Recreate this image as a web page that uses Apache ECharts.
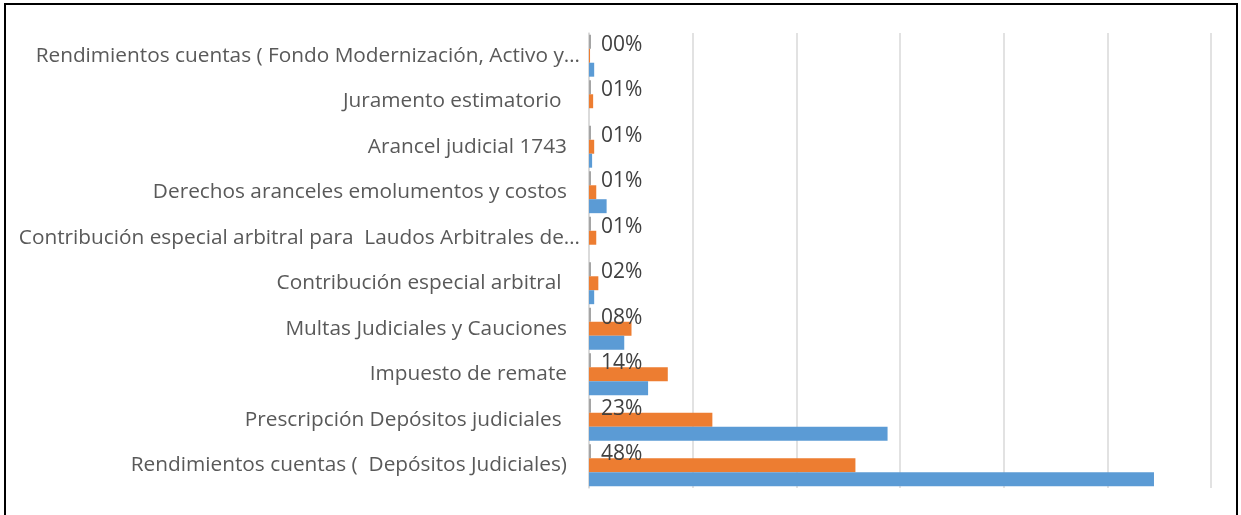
<!DOCTYPE html>
<html>
<head>
<meta charset="utf-8">
<script src="https://cdn.jsdelivr.net/npm/echarts@6/dist/echarts.min.js"></script>
<style>
  html, body { margin: 0; padding: 0; background: #fff; }
  #chart { width: 1241px; height: 515px; }
</style>
</head>
<body>
<div id="chart"></div>
<script>
// categorias (de abajo hacia arriba, como en el original)
var categorias = [
  'Rendimientos cuentas (  Depósitos Judiciales)',
  'Prescripción Depósitos judiciales ',
  'Impuesto de remate',
  'Multas Judiciales y Cauciones',
  'Contribución especial arbitral ',
  'Contribución especial arbitral para  Laudos Arbitrales de…',
  'Derechos aranceles emolumentos y costos',
  'Arancel judicial 1743',
  'Juramento estimatorio ',
  'Rendimientos cuentas ( Fondo Modernización, Activo y…'
];

// serie azul
var serieAzul = [5.45, 2.88, 0.57, 0.34, 0.05, 0, 0.17, 0.03, 0, 0.05];
// serie naranja
var serieNaranja = [2.57, 1.19, 0.76, 0.41, 0.09, 0.07, 0.07, 0.05, 0.04, 0.01];
// participacion (%)
var participacion = [0.48, 0.23, 0.14, 0.08, 0.02, 0.01, 0.01, 0.01, 0.01, 0.00];

var textoFuente = '"Open Sans", "Noto Sans", sans-serif';

var myChart = echarts.init(document.getElementById('chart'));

option = {
  animation: false,
  backgroundColor: '#ffffff',
  textStyle: { fontFamily: textoFuente },
  graphic: [{
    type: 'rect',
    shape: { x: 5, y: 4, width: 1232, height: 540 },
    style: { fill: 'none', stroke: '#000000', lineWidth: 2 },
    silent: true
  }],
  grid: { left: 589, right: 30, top: 33, bottom: 27 },
  xAxis: [{
    type: 'value',
    min: 0,
    max: 6,
    interval: 1,
    axisLabel: { show: false },
    axisLine: { show: false },
    axisTick: { show: false },
    splitLine: { show: true, lineStyle: { color: '#d9d9d9', width: 1.5 } }
  }, {
    type: 'value',
    min: 0,
    max: 600,
    show: false
  }],
  yAxis: {
    type: 'category',
    data: categorias,
    axisTick: { show: false },
    axisLine: { show: true, lineStyle: { color: '#d9d9d9', width: 1.5 } },
    axisLabel: {
      color: '#595959',
      fontSize: 20.8,
      margin: 9,
      fontFamily: textoFuente,
      // las etiquetas cortadas con "…" llegan mas cerca del eje
      formatter: function (v) {
        return v.slice(-1) === '…' ? '{c|' + v + '}' : '{n|' + v + '}';
      },
      rich: {
        c: { color: '#595959', fontSize: 20.8, fontFamily: textoFuente },
        n: { color: '#595959', fontSize: 20.8, fontFamily: textoFuente, padding: [0, 13, 0, 0] }
      }
    }
  },
  series: [
    // en ECharts la primera serie queda arriba dentro de cada categoria
    {
      name: 'participacion',
      type: 'bar',
      xAxisIndex: 1,
      data: participacion,
      barCategoryGap: '8%',
      barGap: '0%',
      barMinHeight: 2,
      itemStyle: { color: '#a5a5a5' },
      label: {
        show: true,
        position: 'right',
        distance: 10,
        offset: [0, 3],
        color: '#404040',
        fontSize: 21,
        fontFamily: textoFuente,
        formatter: function (p) {
          var n = Math.round(p.value * 100);
          return (n < 10 ? '0' : '') + n + '%';
        }
      }
    },
    {
      name: 'naranja',
      type: 'bar',
      data: serieNaranja,
      barCategoryGap: '8%',
      barGap: '0%',
      itemStyle: { color: '#ed7d31' }
    },
    {
      name: 'azul',
      type: 'bar',
      data: serieAzul,
      barCategoryGap: '8%',
      barGap: '0%',
      itemStyle: { color: '#5b9bd5' }
    }
  ]
};

myChart.setOption(option);
</script>
</body>
</html>
